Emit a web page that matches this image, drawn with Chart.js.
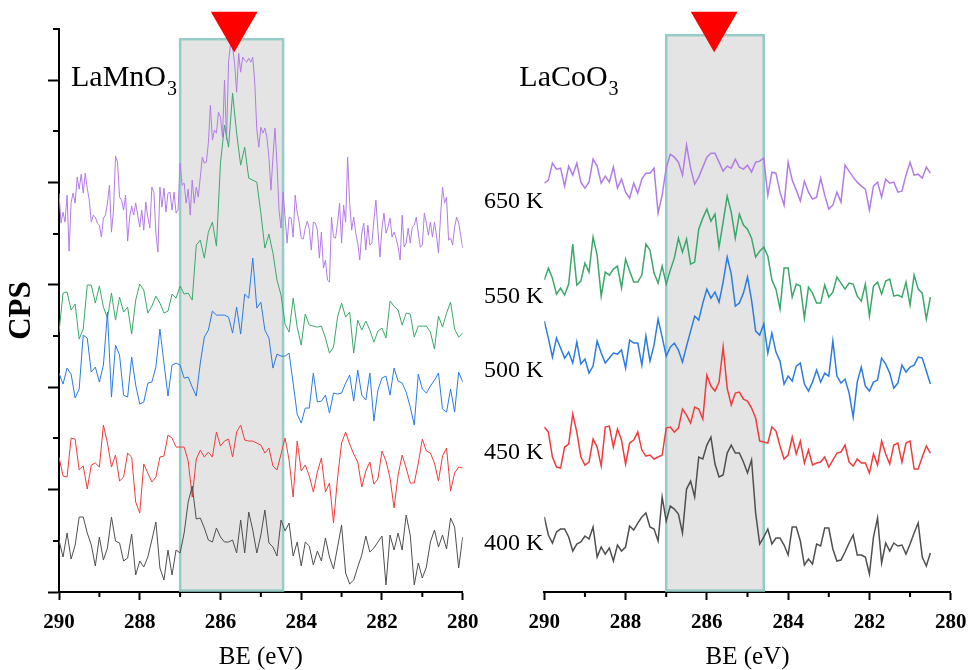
<!DOCTYPE html>
<html>
<head>
<meta charset="utf-8">
<script src="https://cdn.jsdelivr.net/npm/chart.js@4.4.1/dist/chart.umd.min.js"></script>
<style>
  html, body { margin: 0; padding: 0; background: #fff; }
  #wrap { position: relative; width: 969px; height: 670px; overflow: hidden; }
  #mn { position: absolute; left: 0; top: 0; }
  #co { position: absolute; left: 470px; top: 0; }
</style>
</head>
<body>
<div id="wrap">
  <canvas id="mn" width="490" height="670"></canvas>
  <canvas id="co" width="499" height="670"></canvas>
</div>
<script>
// C 1s XPS spectra of LaMnO3 and LaCoO3, stacked by temperature.
// Counts are offset per trace.

const TEMPS = ["400 K", "450 K", "500 K", "550 K", "650 K"];
const COLORS = ["#4f4f4f", "#f03c3c", "#2b7be2", "#3aa86a", "#b27ce6"];

const BE_START = 290;
const BE_STEP = 0.1;
const BE_STEP_FINE = 0.05; // 650 K LaMnO3 scan is sampled twice as dense

// ---- LaMnO3 (290 -> 280 eV) ----
const MN_400K = [52, 35, 59, 33, 47, 75, 75, 59, 47, 26, 55, 32, 44, 75, 51, 49, 31, 34, 58, 17,
  31, 25, 35, 52, 70, 24, 12, 42, 17, 42, 39, 59, 90, 106, 73, 74, 64, 52, 50, 64,
  55, 50, 50, 52, 39, 72, 39, 80, 62, 39, 57, 82, 49, 45, 36, 72, 61, 69, 36, 50,
  26, 50, 46, 27, 41, 31, 54, 35, 23, 45, 67, 19, 8, 12, 25, 37, 56, 40, 44, 50,
  56, 7, 57, 42, 59, 42, 77, 57, 7, 29, 14, 25, 50, 62, 45, 57, 43, 74, 65, 24, 55];

const MN_450K = [135, 116, 115, 154, 153, 122, 126, 103, 127, 129, 125, 167, 149, 125, 137, 111, 115, 139, 135, 90,
  79, 128, 119, 110, 115, 135, 136, 157, 154, 145, 145, 145, 131, 95, 133, 142, 135, 140, 135, 160,
  146, 151, 153, 135, 160, 167, 152, 151, 151, 149, 147, 139, 144, 126, 122, 138, 154, 132, 95, 151,
  121, 127, 116, 100, 120, 134, 100, 109, 69, 114, 149, 160, 148, 138, 130, 105, 121, 130, 108, 113,
  141, 131, 114, 84, 117, 137, 124, 109, 109, 129, 153, 141, 139, 129, 111, 136, 144, 101, 119, 125, 124];

const MN_500K = [219, 208, 224, 218, 194, 203, 257, 254, 220, 225, 210, 227, 280, 195, 247, 237, 197, 195, 235, 207,
  188, 190, 209, 210, 225, 263, 229, 196, 227, 229, 227, 214, 215, 205, 196, 229, 255, 262, 281, 277,
  277, 277, 275, 259, 285, 258, 298, 294, 334, 284, 290, 262, 254, 224, 238, 236, 236, 239, 209, 178,
  169, 184, 184, 219, 190, 191, 197, 179, 199, 198, 199, 209, 217, 191, 222, 197, 192, 219, 171, 202,
  214, 216, 197, 224, 211, 209, 200, 185, 167, 218, 203, 199, 206, 212, 219, 183, 180, 203, 180, 220, 210];

const MN_550K = [260, 299, 300, 282, 288, 253, 263, 307, 307, 289, 306, 285, 274, 299, 272, 295, 280, 285, 258, 292,
  308, 302, 279, 286, 296, 289, 279, 281, 298, 294, 306, 298, 299, 292, 347, 352, 334, 360, 370, 346,
  429, 467, 445, 499, 459, 427, 445, 414, 412, 410, 379, 344, 358, 339, 312, 297, 268, 260, 294, 265,
  247, 278, 267, 266, 265, 266, 254, 239, 245, 275, 289, 275, 280, 239, 272, 262, 271, 262, 250, 261,
  264, 254, 291, 286, 282, 267, 279, 278, 255, 266, 266, 266, 260, 243, 276, 265, 279, 290, 263, 255, 259];

const MN_650K = [399, 369, 380, 370, 397, 341, 390, 399, 389, 415, 403, 418, 399, 419, 404, 392, 370, 377, 375, 369,
  367, 355, 374, 377, 389, 407, 360, 382, 436, 430, 395, 392, 382, 397, 351, 375, 386, 377, 389, 377,
  365, 382, 362, 390, 375, 364, 405, 400, 359, 340, 405, 385, 404, 380, 399, 400, 382, 400, 379, 382,
  429, 407, 409, 389, 403, 377, 412, 389, 405, 395, 415, 435, 429, 430, 449, 487, 452, 462, 459, 480,
  475, 455, 512, 452, 530, 549, 545, 529, 500, 539, 520, 535, 532, 530, 534, 530, 535, 509, 462, 445,
  465, 459, 464, 455, 435, 402, 435, 464, 429, 382, 364, 400, 375, 349, 375, 374, 355, 397, 380, 370,
  354, 353, 364, 371, 363, 342, 370, 369, 362, 334, 360, 324, 332, 312, 310, 375, 355, 354, 369, 389,
  349, 387, 370, 435, 389, 362, 375, 359, 349, 332, 359, 369, 342, 367, 347, 349, 372, 392, 362, 335,
  364, 379, 359, 365, 374, 355, 360, 354, 345, 332, 377, 345, 349, 364, 349, 365, 367, 375, 359, 345,
  347, 379, 369, 357, 370, 355, 370, 357, 339, 375, 405, 389, 395, 352, 354, 347, 365, 375, 369, 357, 344];

// ---- LaCoO3 (290 -> 280.5 eV) ----
const CO_400K = [75, 57, 49, 60, 63, 63, 55, 41, 48, 50, 56, 53, 65, 35, 45, 38, 44, 31, 47, 41,
  45, 66, 62, 69, 75, 79, 65, 63, 51, 95, 71, 86, 83, 78, 59, 103, 111, 95, 135, 133,
  147, 155, 128, 115, 117, 139, 147, 139, 139, 130, 119, 132, 79, 48, 55, 63, 48, 54, 54, 47,
  37, 65, 65, 51, 27, 33, 28, 48, 46, 64, 64, 43, 31, 32, 40, 49, 57, 37, 37, 35,
  18, 55, 74, 29, 49, 41, 49, 46, 47, 38, 48, 59, 69, 35, 26, 39];

const CO_450K = [165, 160, 135, 125, 124, 145, 148, 178, 160, 135, 127, 130, 153, 145, 126, 165, 166, 145, 163, 152,
  128, 149, 152, 160, 142, 136, 137, 133, 135, 137, 164, 165, 160, 164, 183, 177, 169, 185, 183, 173,
  217, 206, 201, 210, 245, 204, 187, 199, 200, 193, 191, 184, 174, 151, 150, 149, 165, 161, 146, 133,
  137, 155, 138, 151, 129, 142, 127, 129, 130, 135, 125, 132, 139, 140, 147, 130, 126, 133, 129, 129,
  119, 138, 127, 151, 138, 128, 147, 149, 130, 149, 151, 123, 123, 135, 146, 139];

const CO_500K = [271, 254, 235, 254, 244, 234, 240, 229, 250, 228, 233, 219, 226, 251, 239, 229, 234, 239, 238, 242,
  224, 252, 249, 249, 227, 256, 231, 247, 273, 255, 236, 245, 249, 242, 230, 246, 261, 276, 272, 289,
  303, 294, 300, 290, 310, 335, 318, 286, 289, 299, 315, 292, 261, 257, 268, 239, 259, 240, 231, 208,
  216, 211, 226, 229, 208, 201, 210, 222, 210, 219, 216, 251, 216, 209, 213, 199, 175, 210, 225, 206,
  201, 210, 212, 234, 228, 219, 204, 209, 227, 220, 225, 227, 235, 234, 221, 208];

const CO_550K = [312, 324, 314, 298, 304, 297, 308, 348, 307, 311, 329, 320, 355, 337, 296, 320, 317, 323, 326, 304,
  333, 321, 310, 310, 317, 348, 342, 319, 309, 326, 308, 322, 334, 354, 340, 353, 328, 330, 363, 374,
  383, 371, 378, 345, 370, 396, 380, 354, 378, 367, 363, 354, 335, 341, 345, 336, 312, 303, 283, 324,
  324, 295, 308, 306, 274, 305, 299, 289, 289, 307, 295, 300, 315, 309, 303, 309, 308, 296, 291, 308,
  276, 306, 310, 298, 311, 313, 296, 297, 295, 310, 287, 317, 303, 299, 273, 295];

const CO_650K = [409, 412, 429, 423, 424, 406, 426, 417, 429, 410, 404, 410, 433, 426, 409, 416, 410, 425, 404, 413,
  400, 394, 409, 399, 413, 419, 419, 424, 379, 397, 424, 438, 435, 430, 417, 447, 424, 408, 415, 425,
  435, 439, 439, 430, 421, 426, 424, 433, 425, 423, 427, 420, 430, 431, 434, 397, 420, 419, 400, 387,
  430, 412, 402, 391, 411, 400, 393, 395, 414, 397, 383, 387, 400, 390, 427, 421, 415, 410, 406, 403,
  382, 406, 410, 395, 413, 409, 410, 400, 401, 417, 430, 417, 418, 414, 425, 419];

// shaded C=O region and peak markers (eV), band tops in counts
const MN_BAND = [287.0, 284.45];
const CO_BAND = [287.0, 284.6];
const MN_BAND_TOP = 553;
const CO_BAND_TOP = 557;
const MN_MARK = 285.66;
const CO_MARK = 285.82;
const MARK_LEVEL = 567;

// where each temperature label sits (counts), LaCoO3 panel
const TEMP_LABEL_LEVEL = [42, 133, 215, 289, 384];

const Y_STEP = 51.2;
const Y_MAX = 563.2;
const FONT = "'Liberation Serif', 'Times New Roman', serif";

function toPoints(values, step) {
  return values.map(function(v, i) {
    return { x: +(BE_START - i * step).toFixed(2), y: v };
  });
}

function lineSet(values, step, color, width) {
  return {
    type: "line",
    data: toPoints(values, step),
    borderColor: color,
    borderWidth: width,
    pointRadius: 0,
    tension: 0,
    order: 2
  };
}

function markerSet(be) {
  return {
    type: "scatter",
    data: [{ x: be, y: MARK_LEVEL }],
    pointStyle: "triangle",
    rotation: 180,
    pointRadius: 27,
    backgroundColor: "#ff0000",
    borderWidth: 0,
    clip: false,
    order: 0
  };
}

// grey band behind the traces
const bandPlugin = {
  id: "band",
  beforeDatasetsDraw: function(chart, args, opts) {
    const ctx = chart.ctx, x = chart.scales.x, y = chart.scales.y;
    const l = x.getPixelForValue(opts.range[0]);
    const r = x.getPixelForValue(opts.range[1]);
    const t = y.getPixelForValue(opts.top);
    const b = y.getPixelForValue(0) - 1.5;
    ctx.save();
    ctx.fillStyle = "#e4e4e4";
    ctx.fillRect(l, t, r - l, b - t);
    ctx.strokeStyle = "#96cbc7";
    ctx.lineWidth = 2.5;
    ctx.strokeRect(l, t, r - l, b - t);
    ctx.restore();
  }
};

// short ticks on odd positions (the library draws the long ones)
const minorTicks = {
  id: "minorTicks",
  afterDraw: function(chart) {
    const ctx = chart.ctx, x = chart.scales.x, y = chart.scales.y;
    ctx.save();
    ctx.strokeStyle = "#000";
    ctx.lineWidth = 2;
    ctx.beginPath();
    x.ticks.forEach(function(t) {
      if (t.value % 2 !== 0) {
        const px = x.getPixelForValue(t.value);
        ctx.moveTo(px, chart.chartArea.bottom);
        ctx.lineTo(px, chart.chartArea.bottom + 5);
      }
    });
    if (y.options.display) {
      y.ticks.forEach(function(t, i) {
        if (i % 2 === 1) {
          const py = Math.round(y.getPixelForValue(t.value));
          ctx.moveTo(chart.chartArea.left, py);
          ctx.lineTo(chart.chartArea.left - 6, py);
        }
      });
    }
    ctx.stroke();
    ctx.restore();
  }
};

// sample name with subscript, plus temperature labels
const panelText = {
  id: "panelText",
  afterDraw: function(chart, args, opts) {
    const ctx = chart.ctx, area = chart.chartArea, y = chart.scales.y;
    ctx.save();
    ctx.fillStyle = "#000";
    ctx.textAlign = "left";
    ctx.textBaseline = "alphabetic";
    ctx.font = "30px " + FONT;
    const tx = area.left + opts.titleDx;
    const ty = area.top + 57;
    ctx.fillText(opts.title, tx, ty);
    const w = ctx.measureText(opts.title).width;
    ctx.font = "20px " + FONT;
    ctx.fillText(opts.sub, tx + w + 1, ty + 9);
    if (opts.temps) {
      ctx.font = "24px " + FONT;
      ctx.textAlign = "right";
      TEMPS.forEach(function(label, i) {
        ctx.fillText(label, area.left - 1, y.getPixelForValue(TEMP_LABEL_LEVEL[i]));
      });
    }
    ctx.restore();
  }
};

function makePanel(id, datasets, cfg) {
  const ctx = document.getElementById(id).getContext("2d");
  return new Chart(ctx, {
    type: "line",
    data: { datasets: datasets },
    plugins: [bandPlugin, minorTicks, panelText],
    options: {
      responsive: false,
      animation: false,
      devicePixelRatio: 1,
      layout: { padding: cfg.padding, autoPadding: false }, // big marker must not shrink the plot
      plugins: {
        legend: { display: false },
        tooltip: { enabled: false },
        band: { range: cfg.band, top: cfg.bandTop },
        panelText: { title: cfg.title, sub: "3", titleDx: cfg.titleDx, temps: cfg.temps }
      },
      scales: {
        x: {
          type: "linear",
          min: 280,
          max: 290,
          reverse: true,
          z: 1,
          afterFit: function(scale) {
            scale.height = 78;
            scale.paddingLeft = 0;
            scale.paddingRight = 0;
          },
          border: { display: true, color: "#000", width: 2 },
          grid: {
            drawOnChartArea: false,
            drawTicks: true,
            tickLength: 8,
            tickWidth: 2,
            tickColor: function(c) { return c.tick && c.tick.value % 2 === 0 ? "#000" : "rgba(0,0,0,0)"; }
          },
          ticks: {
            stepSize: 1,
            autoSkip: false,
            maxRotation: 0,
            padding: 10,
            color: "#000",
            font: { family: FONT, size: 21, weight: "bold" },
            callback: function(v) { return v % 2 === 0 ? String(v) : ""; }
          },
          title: {
            display: true,
            text: "BE (eV)",
            color: "#000",
            padding: { top: 0, bottom: 0 },
            font: { family: FONT, size: 25, lineHeight: 1 }
          }
        },
        y: {
          min: 0,
          max: Y_MAX,
          display: cfg.showY,
          z: 1,
          afterBuildTicks: function(scale) {
            const ticks = [];
            for (let i = 0; i * Y_STEP <= Y_MAX + 0.01; i++) ticks.push({ value: i * Y_STEP });
            scale.ticks = ticks;
          },
          afterFit: function(scale) {
            scale.width = cfg.showY ? 59 : 0;
            scale.paddingTop = 0;
            scale.paddingBottom = 0;
          },
          border: { display: true, color: "#000", width: 2 },
          grid: {
            drawOnChartArea: false,
            drawTicks: true,
            tickLength: 11,
            tickWidth: 2,
            tickColor: function(c) { return c.index % 2 === 0 ? "#000" : "rgba(0,0,0,0)"; }
          },
          ticks: { display: false },
          title: {
            display: true,
            text: "CPS",
            color: "#000",
            padding: { top: 3, bottom: 0 },
            font: { family: FONT, size: 31, weight: "bold", lineHeight: 1.2 }
          }
        }
      }
    }
  });
}

const mnSeries = [MN_400K, MN_450K, MN_500K, MN_550K];
const mnSets = mnSeries.map(function(vals, i) { return lineSet(vals, BE_STEP, COLORS[i], 1); });
mnSets.push(lineSet(MN_650K, BE_STEP_FINE, COLORS[4], 1));
mnSets.push(markerSet(MN_MARK));

const coSeries = [CO_400K, CO_450K, CO_500K, CO_550K, CO_650K];
const coSets = coSeries.map(function(vals, i) { return lineSet(vals, BE_STEP, COLORS[i], 1.5); });
coSets.push(markerSet(CO_MARK));

makePanel("mn", mnSets, {
  padding: { top: 29, left: 0, right: 27.3, bottom: 0 },
  band: MN_BAND, bandTop: MN_BAND_TOP,
  title: "LaMnO", titleDx: 12, temps: false, showY: true
});

makePanel("co", coSets, {
  padding: { top: 29, left: 74.3, right: 18.3, bottom: 0 },
  band: CO_BAND, bandTop: CO_BAND_TOP,
  title: "LaCoO", titleDx: -25, temps: true, showY: false
});
</script>
</body>
</html>
